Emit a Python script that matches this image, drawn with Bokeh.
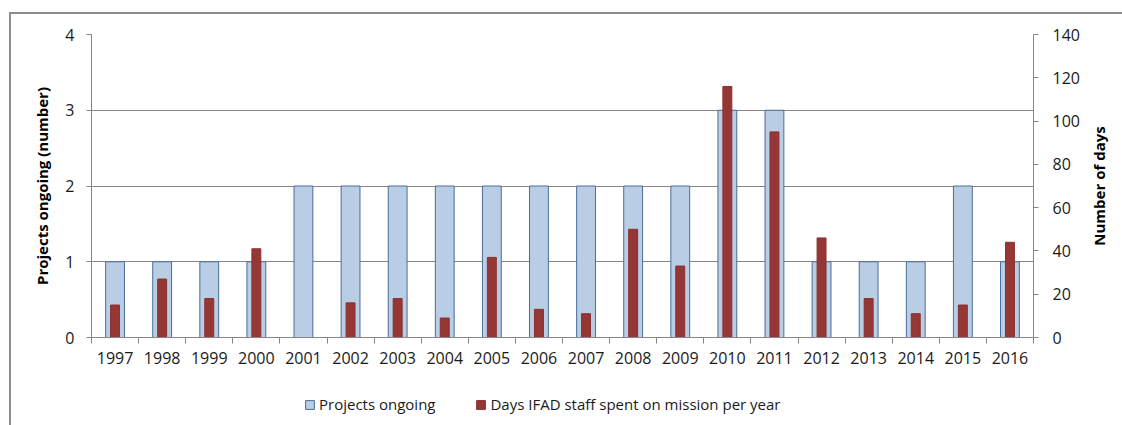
import math
from bokeh.plotting import figure
from bokeh.layouts import column, row
from bokeh.models import (ColumnDataSource, Range1d, LinearAxis, FixedTicker,
                          Legend, LegendItem, Label)
from bokeh.embed import file_html
from bokeh.resources import INLINE

years = ["1997", "1998", "1999", "2000", "2001", "2002", "2003", "2004", "2005", "2006",
         "2007", "2008", "2009", "2010", "2011", "2012", "2013", "2014", "2015", "2016"]
projects_ongoing = [1, 1, 1, 1, 2, 2, 2, 2, 2, 2, 2, 2, 2, 3, 3, 1, 1, 1, 2, 1]
mission_days = [15, 27, 18, 41, 0, 16, 18, 9, 37, 13, 11, 50, 33, 116, 95, 46, 18, 11, 15, 44]
left_ticks = [0, 1, 2, 3, 4]
right_ticks = [0, 20, 40, 60, 80, 100, 120, 140]

FONT = "Open Sans"
GRID = "#868686"
BLUE_FILL, BLUE_LINE = "#b9cde5", "#4a6d9a"
RED_FILL, RED_LINE = "#953735", "#8a3130"

xs = [i + 0.5 for i in range(len(years))]
src = ColumnDataSource(dict(x=xs, year=years, proj=projects_ongoing, days=mission_days))

W = 1111
SIDE = 40
p = figure(width=W - SIDE, height=363, output_backend="svg", toolbar_location=None,
           x_range=Range1d(0, len(years)), y_range=Range1d(0, 4),
           min_border_left=80, min_border_right=49, min_border_top=20, min_border_bottom=40)
p.outline_line_color = None
p.extra_y_ranges = {"days": Range1d(0, 140)}

p.vbar(x="x", top="proj", width=0.4, source=src, fill_color=BLUE_FILL,
       line_color=BLUE_LINE, line_width=1)
p.vbar(x="x", top="days", width=0.19, source=src, fill_color=RED_FILL,
       line_color=RED_LINE, line_width=1, y_range_name="days")

# x axis
xa = p.xaxis[0]
xa.ticker = FixedTicker(ticks=xs, minor_ticks=list(range(len(years) + 1)))
xa.major_label_overrides = {x: y for x, y in zip(xs, years)}
xa.major_tick_line_color = None
xa.minor_tick_line_color = GRID
xa.minor_tick_in = 0
xa.minor_tick_out = 6
xa.axis_line_color = GRID
xa.major_label_text_font = FONT
xa.major_label_text_font_size = "16px"
xa.major_label_text_color = "#1a1a1a"
xa.major_label_standoff = 8

# left axis
ya = p.yaxis[0]
ya.ticker = FixedTicker(ticks=left_ticks)
ya.minor_tick_line_color = None
ya.major_tick_in = 0
ya.major_tick_out = 5
ya.major_tick_line_color = GRID
ya.axis_line_color = GRID
ya.axis_label = "Projects ongoing (number)"
ya.axis_label_text_font = FONT
ya.axis_label_text_font_style = "bold"
ya.axis_label_text_font_size = "15px"
ya.axis_label_text_color = "#000000"
ya.axis_label_standoff = 10
ya.major_label_text_font = FONT
ya.major_label_text_font_size = "16px"
ya.major_label_text_color = "#1a1a1a"
ya.major_label_standoff = 12

# right axis (its title is drawn in the side strip, reading bottom-to-top)
ra = LinearAxis(y_range_name="days", ticker=FixedTicker(ticks=right_ticks))
ra.minor_tick_line_color = None
ra.major_tick_in = 0
ra.major_tick_out = 5
ra.major_tick_line_color = GRID
ra.axis_line_color = GRID
ra.major_label_text_font = FONT
ra.major_label_text_font_size = "16px"
ra.major_label_text_color = "#1a1a1a"
ra.major_label_standoff = 14
p.add_layout(ra, "right")

p.xgrid.grid_line_color = None
p.ygrid.ticker = FixedTicker(ticks=left_ticks)
p.ygrid.grid_line_color = GRID
p.ygrid.grid_line_width = 1

side = figure(width=SIDE, height=363, output_backend="svg", toolbar_location=None,
              x_range=Range1d(0, 1), y_range=Range1d(0, 1),
              x_axis_location=None, y_axis_location=None,
              min_border_left=0, min_border_right=0, min_border_top=20, min_border_bottom=40)
side.outline_line_color = None
side.grid.grid_line_color = None
side.add_layout(Label(x=0.4, y=0.5, text="Number of days", angle=math.pi / 2,
                      text_align="center", text_baseline="middle",
                      text_font=FONT, text_font_style="bold", text_font_size="15px",
                      text_color="#000000"))

# legend strip (bars here fall outside its y range; only the legend shows)
lg = figure(width=W, height=48, output_backend="svg", toolbar_location=None,
            x_range=Range1d(0, len(years)), y_range=Range1d(1000, 1001),
            x_axis_location=None, y_axis_location=None,
            min_border_left=80, min_border_right=89, min_border_top=0, min_border_bottom=0)
lg.outline_line_color = None
lg.grid.grid_line_color = None
l1 = lg.vbar(x="x", top="proj", width=0.4, source=src, fill_color=BLUE_FILL,
             line_color=BLUE_LINE, line_width=1)
l2 = lg.vbar(x="x", top="days", width=0.19, source=src, fill_color=RED_FILL,
             line_color=RED_LINE, line_width=1)
legend = Legend(items=[LegendItem(label="Projects ongoing", renderers=[l1]),
                       LegendItem(label="Days IFAD staff spent on mission per year", renderers=[l2])],
                orientation="horizontal", location=(213, 11),
                border_line_color=None, background_fill_alpha=0,
                padding=0, margin=0, spacing=40, label_standoff=4,
                glyph_width=11, glyph_height=11,
                label_text_font=FONT, label_text_font_size="15px",
                label_text_color="#1a1a1a")
lg.add_layout(legend, "center")

layout = column(row(p, side, spacing=0), lg, spacing=0,
                styles={"border-top": "2px solid #8c8c8c", "border-left": "2px solid #8c8c8c",
                        "margin-top": "12px", "margin-left": "9px"})

open("out.html", "w").write(file_html(layout, INLINE))
